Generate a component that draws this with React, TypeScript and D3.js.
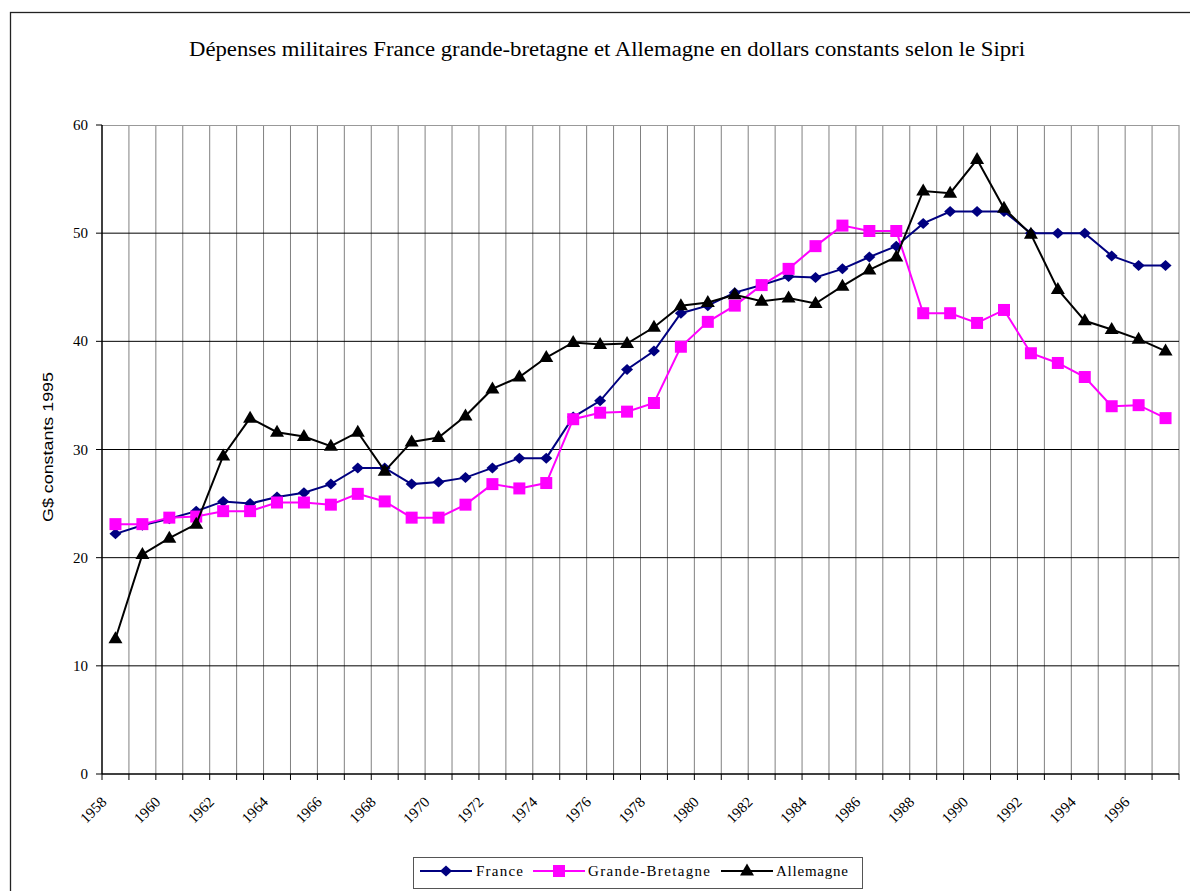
import React from 'react';
import * as d3 from 'd3';

// SIPRI military spending, G$ constant 1995
const years = d3.range(1958, 1998);
const france = [
  22.2, 23.0, 23.6, 24.3, 25.2, 25.0, 25.6, 26.0, 26.8, 28.3,
  28.3, 26.8, 27.0, 27.4, 28.3, 29.2, 29.2, 33.0, 34.5, 37.4,
  39.1, 42.6, 43.3, 44.5, 45.2, 46.0, 45.9, 46.7, 47.8, 48.8,
  50.9, 52.0, 52.0, 52.0, 50.0, 50.0, 50.0, 47.9, 47.0, 47.0,
];
const grandeBretagne = [
  23.1, 23.1, 23.7, 23.8, 24.3, 24.3, 25.1, 25.1, 24.9, 25.9,
  25.2, 23.7, 23.7, 24.9, 26.8, 26.4, 26.9, 32.8, 33.4, 33.5,
  34.3, 39.5, 41.8, 43.3, 45.2, 46.7, 48.8, 50.7, 50.2, 50.2,
  42.6, 42.6, 41.7, 42.9, 38.9, 38.0, 36.7, 34.0, 34.1, 32.9,
];
const allemagne = [
  12.5, 20.3, 21.8, 23.1, 29.4, 32.9, 31.6, 31.2, 30.3, 31.6,
  28.0, 30.7, 31.1, 33.1, 35.6, 36.7, 38.5, 39.9, 39.7, 39.8,
  41.3, 43.3, 43.6, 44.3, 43.7, 44.0, 43.5, 45.1, 46.6, 47.8,
  53.9, 53.7, 56.8, 52.3, 49.9, 44.8, 41.9, 41.1, 40.2, 39.1,
];
const yTicks = [0, 10, 20, 30, 40, 50, 60];
const labelYears = years.filter(y => y % 2 === 0);

const series = [
  { name: 'France', values: france, color: '#000080', shape: 'diamond' },
  { name: 'Grande-Bretagne', values: grandeBretagne, color: '#FF00FF', shape: 'square' },
  { name: 'Allemagne', values: allemagne, color: '#000000', shape: 'triangle' },
];

const shapes: Record<string, string> = {
  diamond: 'M0,-5.5L6,0L0,5.5L-6,0Z',
  square: 'M-6,-6H6V6H-6Z',
  triangle: 'M0,-7.5L7,4.5L-7,4.5Z',
};

const serif = '"Liberation Serif", "Times New Roman", serif';
const sans = '"Liberation Sans", Arial, sans-serif';

export default function App() {
  const left = 102, right = 1179, top = 125, bottom = 774;

  const x = d3.scaleBand<number>().domain(years).range([left, right]).paddingInner(0);
  const bw = x.bandwidth();
  const cx = (yr: number) => (x(yr) as number) + bw / 2;
  const y = d3.scaleLinear().domain([0, 60]).range([bottom, top]);

  const boundaries = years.map(yr => x(yr) as number).concat([right]);

  const line = (vals: number[]) =>
    d3.line<number>().x((_, i) => cx(years[i])).y(d => y(d))(vals) as string;

  const legendItems = [
    { lx: 420, tx: 476, len: 47 },
    { lx: 533, tx: 588, len: 122 },
    { lx: 721, tx: 776, len: 72 },
  ];

  return (
    <svg width={1190} height={891} style={{ position: 'absolute', left: 0, top: 0, background: '#fff' }}>
      <rect x={10.5} y={12.5} width={1200} height={900} fill="#fff" stroke="#222" strokeWidth={1.3} />

      <text x={607} y={56} textAnchor="middle" fontFamily={serif} fontSize={20}
        textLength={836} lengthAdjust="spacingAndGlyphs">
        Dépenses militaires France grande-bretagne et Allemagne en dollars constants selon le Sipri
      </text>

      {/* vertical grid */}
      {boundaries.slice(1).map((b, i) => (
        <line key={'v' + i} x1={b} x2={b} y1={top} y2={bottom} stroke="#808080" strokeWidth={1} />
      ))}
      <line x1={left} x2={right} y1={top + 0.5} y2={top + 0.5} stroke="#999" strokeWidth={1} />
      {/* horizontal grid */}
      {yTicks.filter(t => t > 0 && t < 60).map(t => (
        <line key={'h' + t} x1={left} x2={right} y1={y(t)} y2={y(t)} stroke="#000" strokeWidth={1} />
      ))}

      {/* axes */}
      <line x1={left} x2={left} y1={top} y2={bottom} stroke="#000" strokeWidth={1.5} />
      <line x1={left} x2={right} y1={bottom} y2={bottom} stroke="#000" strokeWidth={1.5} />
      {yTicks.map(t => (
        <g key={'yt' + t}>
          <line x1={left - 6} x2={left} y1={y(t)} y2={y(t)} stroke="#000" />
          <text x={88} y={y(t) + 5} textAnchor="end" fontFamily={serif} fontSize={15}>{t}</text>
        </g>
      ))}
      {boundaries.map((b, i) => (
        <line key={'xt' + i} x1={b} x2={b} y1={bottom} y2={bottom + 6} stroke="#000" />
      ))}
      {labelYears.map(yr => (
        <text key={'xl' + yr} transform={`translate(${cx(yr) - 8},${bottom + 29}) rotate(-45)`}
          textAnchor="end" fontFamily={serif} fontSize={15}>{yr}</text>
      ))}

      <text transform={`translate(53,447) rotate(-90)`} textAnchor="middle" fontFamily={sans} fontSize={15}
        textLength={150} lengthAdjust="spacingAndGlyphs">
        G$ constants 1995
      </text>

      {/* series */}
      {series.map(s => (
        <g key={s.name}>
          <path d={line(s.values)} fill="none" stroke={s.color} strokeWidth={2} />
          {s.values.map((v, i) => (
            <path key={i} d={shapes[s.shape]} transform={`translate(${cx(years[i])},${y(v)})`} fill={s.color} />
          ))}
        </g>
      ))}

      {/* legend */}
      <rect x={413.5} y={857.5} width={449} height={31} fill="#fff" stroke="#555" strokeWidth={1} />
      {series.map((s, i) => (
        <g key={'lg' + s.name}>
          <line x1={legendItems[i].lx} x2={legendItems[i].lx + 52} y1={871} y2={871} stroke={s.color} strokeWidth={2} />
          <path d={shapes[s.shape]} transform={`translate(${legendItems[i].lx + 26},871)`} fill={s.color} />
          <text x={legendItems[i].tx} y={876} fontFamily={serif} fontSize={15}
            textLength={legendItems[i].len} lengthAdjust="spacing">{s.name}</text>
        </g>
      ))}
    </svg>
  );
}
